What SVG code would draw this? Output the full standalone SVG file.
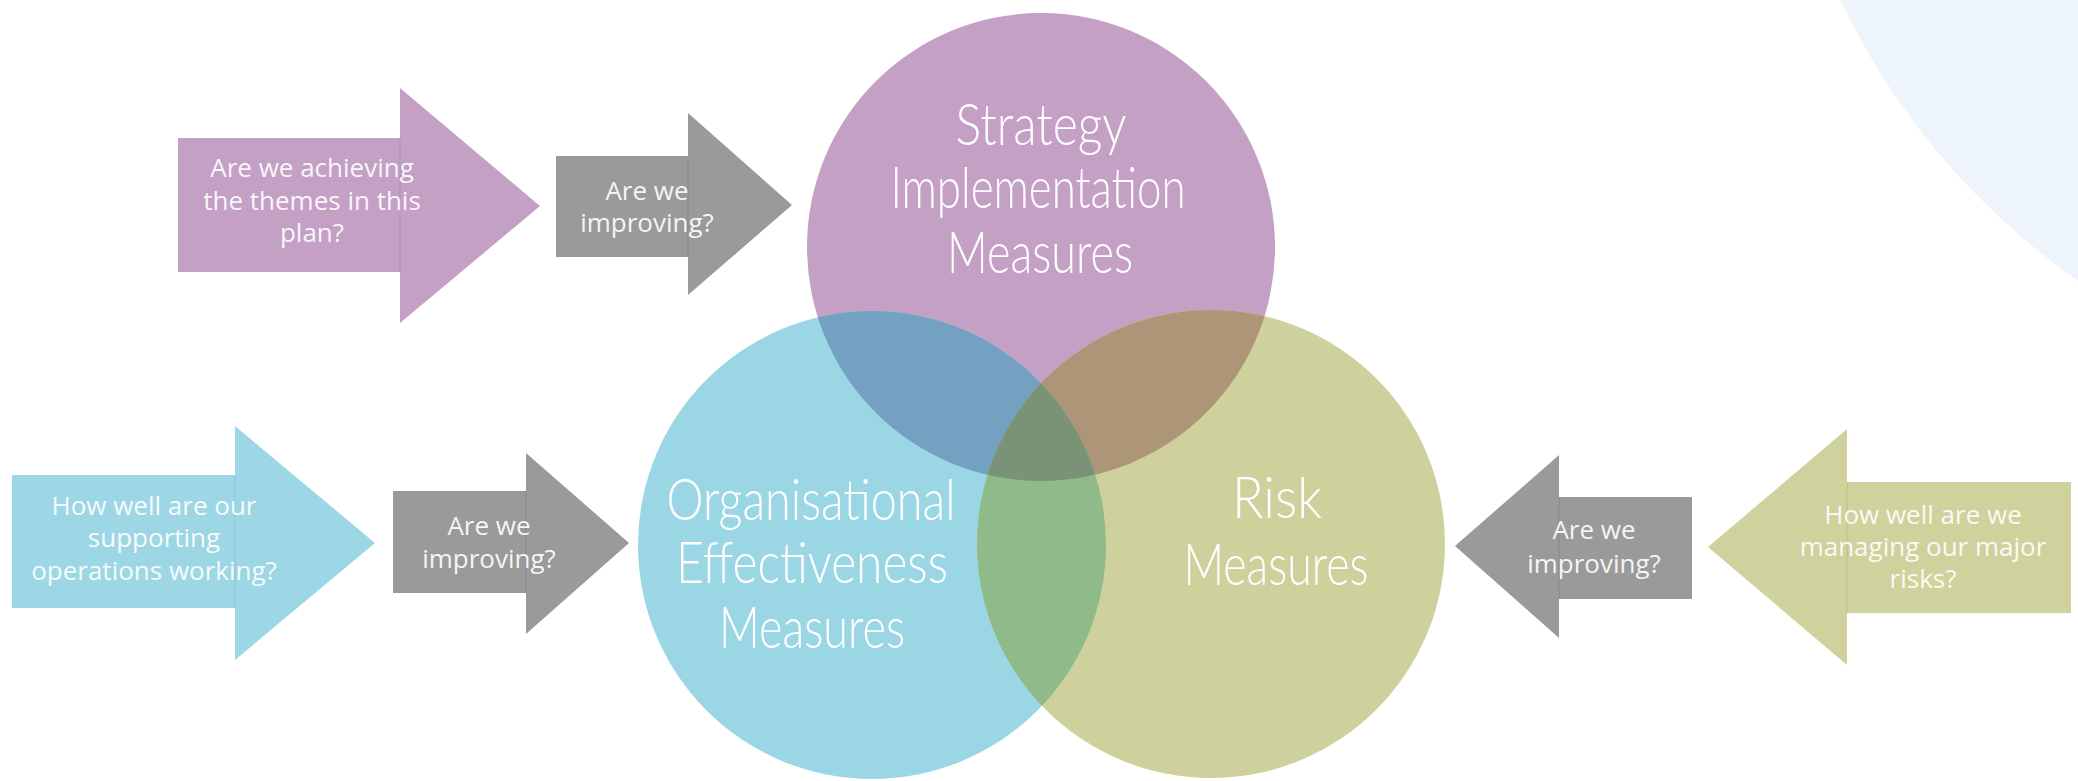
<svg xmlns="http://www.w3.org/2000/svg" width="2078" height="781" viewBox="0 0 2078 781">
<style>
.q{font-family:"Open Sans","Liberation Sans",sans-serif;font-size:26px;fill:#ffffff;fill-opacity:0.92;text-anchor:middle}
.h{font-family:"Lato","Inter","Liberation Sans",sans-serif;font-weight:300;font-size:58px;fill:#ffffff;text-anchor:middle}
.seam{stroke-width:1.5;stroke-opacity:0.35}
</style>
<defs>
<clipPath id="cP"><circle cx="1041" cy="247" r="234"/></clipPath>
<clipPath id="cB"><circle cx="872" cy="545" r="234"/></clipPath>
</defs>
<rect width="2078" height="781" fill="#ffffff"/>
<circle id="bg-circle" cx="2482" cy="-302" r="709" fill="#EEF4FB"/>

<g id="connectors">
<g id="arrow-strategy">
<path d="M178,138 H400 V88 L540,206 L400,323 V272 H178 Z" fill="#C4A0C5"/>
<line class="seam" x1="400" y1="138" x2="400" y2="272" stroke="#A880AA"/>
<text class="q" x="312" y="177">Are we achieving</text>
<text class="q" x="312" y="210">the themes in this</text>
<text class="q" x="312" y="242">plan?</text>
</g>
<g id="arrow-improve-1">
<path d="M556,156 H688 V113 L792,205 L688,295 V257 H556 Z" fill="#9A9A9A"/>
<line class="seam" x1="688" y1="156" x2="688" y2="257" stroke="#777777"/>
<text class="q" x="647" y="200">Are we</text>
<text class="q" x="647" y="232">improving?</text>
</g>
<g id="arrow-support">
<path d="M12,475 H235 V426 L375,543 L235,660 V608 H12 Z" fill="#9DD7E5"/>
<line class="seam" x1="235" y1="475" x2="235" y2="608" stroke="#7AB8C8"/>
<text class="q" x="154" y="515">How well are our</text>
<text class="q" x="154" y="547">supporting</text>
<text class="q" x="154" y="580">operations working?</text>
</g>
<g id="arrow-improve-2">
<path d="M393,491 H526 V453 L629,543 L526,634 V593 H393 Z" fill="#9A9A9A"/>
<line class="seam" x1="526" y1="491" x2="526" y2="593" stroke="#777777"/>
<text class="q" x="489" y="535">Are we</text>
<text class="q" x="489" y="568">improving?</text>
</g>
<g id="arrow-improve-3">
<path d="M1692,497 H1559 V455 L1455,546 L1559,638 V599 H1692 Z" fill="#9A9A9A"/>
<line class="seam" x1="1559" y1="497" x2="1559" y2="599" stroke="#777777"/>
<text class="q" x="1594" y="539">Are we</text>
<text class="q" x="1594" y="573">improving?</text>
</g>
<g id="arrow-risk">
<path d="M2071,482 H1847 V429 L1708,547 L1847,665 V613 H2071 Z" fill="#CFD29D"/>
<line class="seam" x1="1847" y1="482" x2="1847" y2="613" stroke="#AEB27A"/>
<text class="q" x="1923" y="524">How well are we</text>
<text class="q" x="1923" y="556">managing our major</text>
<text class="q" x="1923" y="588">risks?</text>
</g>
</g>

<g id="venn">
<circle cx="1041" cy="247" r="234" fill="#C4A0C5"/>
<circle cx="872" cy="545" r="234" fill="#9BD6E4"/>
<circle cx="1211" cy="544" r="234" fill="#CED19B"/>
<circle cx="872" cy="545" r="234" fill="#74A0C2" clip-path="url(#cP)"/>
<circle cx="1211" cy="544" r="234" fill="#AD9677" clip-path="url(#cP)"/>
<circle cx="1211" cy="544" r="234" fill="#8FBA8A" clip-path="url(#cB)"/>
<g clip-path="url(#cB)"><circle cx="1211" cy="544" r="234" fill="#7A9377" clip-path="url(#cP)"/></g>
</g>

<g id="node-strategy">
<text class="h" x="1041" y="145" textLength="171" lengthAdjust="spacingAndGlyphs">Strategy</text>
<text class="h" x="1038" y="208" textLength="295" lengthAdjust="spacingAndGlyphs">Implementation</text>
<text class="h" x="1040" y="273" textLength="186" lengthAdjust="spacingAndGlyphs">Measures</text>
</g>
<g id="node-organisational">
<text class="h" x="811" y="520" textLength="289" lengthAdjust="spacingAndGlyphs">Organisational</text>
<text class="h" x="812" y="583" textLength="272" lengthAdjust="spacingAndGlyphs">Effectiveness</text>
<text class="h" x="812" y="648" textLength="186" lengthAdjust="spacingAndGlyphs">Measures</text>
</g>
<g id="node-risk">
<text class="h" x="1277" y="518" textLength="90" lengthAdjust="spacingAndGlyphs">Risk</text>
<text class="h" x="1276" y="585" textLength="185" lengthAdjust="spacingAndGlyphs">Measures</text>
</g>
</svg>
